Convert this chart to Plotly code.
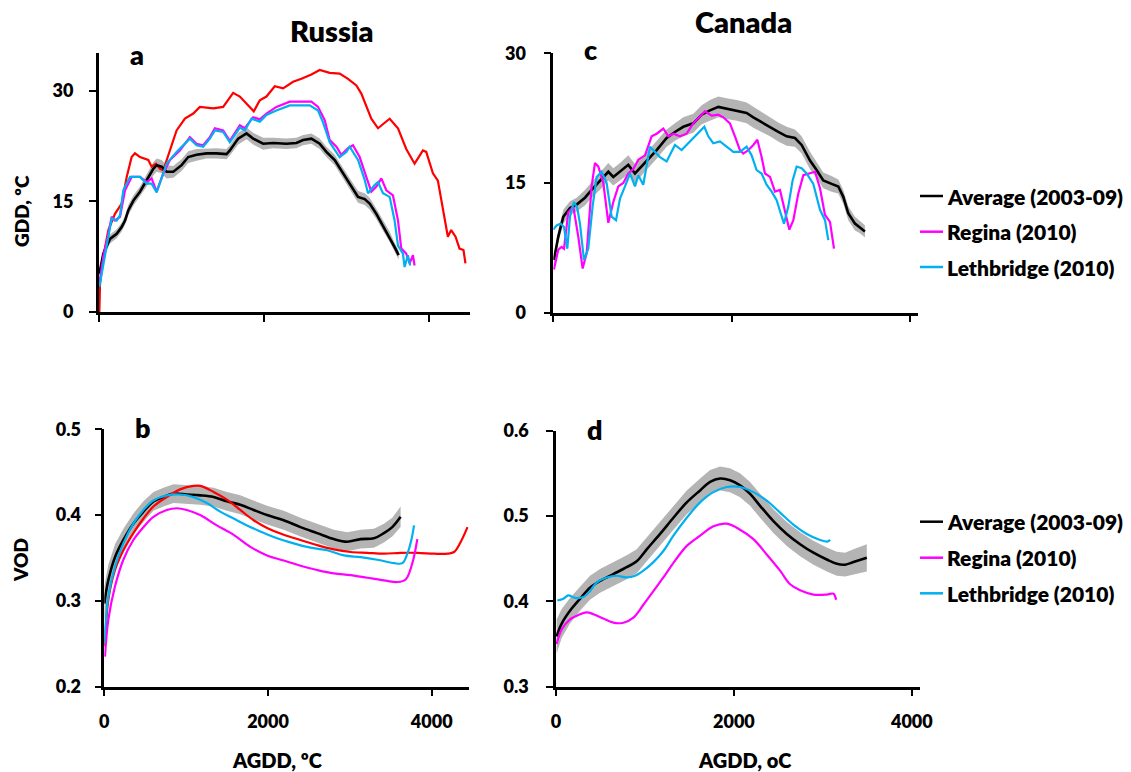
import plotly.graph_objects as go

W, H = 1131, 772

# ---------------- Panel a: Russia GDD ----------------
a_avg_x = [8,56,137,218,278,319,359,420,500,581,661,702,762,822,903,1004,1084,1185,1306,1427,1548,1588,1689,1790,1870,1991,2112,2273,2394,2475,2576,2676,2757,2858,2959,3039,3140,3221,3281,3362,3442,3523,3583,3632]
a_avg_y = [5.2,7.9,9.9,10.6,11.5,12.4,13.8,15.1,16.3,17.8,19.4,19.9,19.7,19.0,19.0,19.9,21.0,21.3,21.5,21.5,21.4,21.9,23.5,24.2,23.5,22.8,22.9,22.8,22.9,23.3,23.5,22.8,21.7,20.6,18.8,17.4,15.6,15.3,14.7,13.3,11.7,10.2,8.8,7.7]
a_avg_err = [0.4,0.5,0.6,0.6,0.6,0.6,0.7,0.7,0.7,0.8,0.9,0.9,0.9,0.9,0.8,0.8,0.8,0.8,0.7,0.7,0.7,0.7,0.8,0.8,0.8,0.8,0.7,0.7,0.7,0.7,0.7,0.7,0.7,0.7,0.7,0.7,0.8,0.8,0.8,0.7,0.7,0.7,0.6,0.6]

a_red_x = [8,16,56,117,197,278,339,399,439,500,600,641,693,742,782,822,883,943,1044,1145,1225,1387,1507,1628,1709,1790,1878,1951,2031,2132,2233,2354,2455,2576,2676,2797,2918,3019,3120,3180,3240,3301,3382,3442,3523,3624,3724,3825,3926,3966,4047,4107,4168,4228,4268,4321,4369,4417,4441]
a_red_y = [0,3.8,7.5,11.1,13.3,14.7,18.3,21.0,21.5,21.0,20.6,19.7,20.1,19.4,19.2,20.6,22.8,24.6,26.2,26.9,27.8,27.6,27.8,29.7,29.2,28.2,27.2,28.7,29.2,30.6,30.3,31.2,31.6,32.2,32.8,32.4,32.3,31.6,30.7,29.6,27.8,26.2,24.9,25.5,26.2,24.9,22.1,20.1,21.9,21.7,18.8,17.8,13.8,10.2,11.1,10.2,8.6,8.4,6.6]

a_mag_x = [8,56,117,157,197,258,319,399,500,581,641,702,782,863,983,1104,1185,1265,1346,1407,1507,1588,1709,1769,1870,1951,2031,2152,2314,2434,2576,2656,2737,2797,2878,2938,3019,3079,3160,3240,3301,3362,3422,3483,3563,3624,3664,3724,3765,3805,3825]
a_mag_y = [3.8,7.5,10.6,12.9,12.4,12.9,16.5,18.3,18.3,17.6,18.1,16.3,18.8,20.6,21.9,23.7,22.8,22.6,23.7,24.9,24.6,23.2,25.3,24.9,26.4,26.1,26.9,27.8,28.5,28.5,28.5,27.8,26.0,23.3,22.4,21.3,22.2,22.6,21.0,18.3,16.3,17.0,18.1,16.5,15.8,12.4,8.6,7.9,6.6,7.7,6.3]

a_cyan_x = [8,76,157,218,258,298,379,500,581,641,702,822,943,1104,1185,1265,1346,1407,1507,1588,1709,1769,1850,1951,2031,2152,2314,2434,2555,2656,2716,2797,2918,2999,3039,3140,3221,3261,3341,3382,3442,3523,3583,3624,3684,3704,3744,3772]
a_cyan_y = [3.4,7.5,12.7,12.4,13.1,16.5,18.3,18.3,17.4,17.4,16.2,20.1,21.7,23.5,22.6,22.4,23.5,24.6,24.4,23.0,25.0,24.6,26.2,25.8,26.7,27.3,28.0,28.0,28.0,27.3,25.7,23.0,21.0,21.7,22.4,20.6,17.9,16.1,17.2,17.6,16.1,15.6,12.4,9.0,7.9,6.1,7.7,6.3]

# ---------------- Panel b: Russia VOD ----------------
b_avg_x = [0,49,131,233,355,478,600,722,845,1008,1171,1335,1498,1661,1824,1988,2192,2396,2600,2804,2967,3131,3294,3416,3518,3620]
b_avg_y = [0.297,0.324,0.351,0.371,0.390,0.404,0.416,0.421,0.425,0.424,0.423,0.421,0.416,0.412,0.406,0.400,0.394,0.386,0.379,0.372,0.369,0.372,0.373,0.379,0.386,0.398]
b_avg_err = [0.02,0.018,0.015,0.013,0.012,0.012,0.011,0.011,0.011,0.011,0.011,0.011,0.011,0.011,0.011,0.011,0.011,0.011,0.011,0.011,0.011,0.011,0.011,0.011,0.011,0.012]

b_red_x = [8,49,131,233,355,478,600,763,927,1090,1171,1335,1498,1661,1824,1988,2192,2396,2600,2804,3008,3212,3416,3620,3824,4029,4192,4273,4355,4437]
b_red_y = [0.247,0.301,0.336,0.359,0.379,0.396,0.410,0.421,0.430,0.434,0.434,0.427,0.418,0.406,0.394,0.385,0.377,0.371,0.365,0.360,0.357,0.356,0.355,0.356,0.356,0.355,0.355,0.357,0.369,0.386]

b_cyan_x = [0,49,131,233,355,478,600,763,927,1090,1253,1416,1580,1743,1906,2110,2314,2518,2722,2927,3131,3335,3539,3641,3702,3751,3784]
b_cyan_y = [0.250,0.305,0.340,0.367,0.390,0.406,0.417,0.423,0.424,0.421,0.414,0.404,0.396,0.388,0.381,0.373,0.367,0.362,0.359,0.353,0.351,0.348,0.344,0.344,0.355,0.371,0.388]

b_mag_x = [8,49,131,233,355,478,600,763,886,1008,1171,1375,1580,1784,1988,2192,2396,2600,2804,3008,3212,3416,3580,3682,3763,3824]
b_mag_y = [0.235,0.278,0.317,0.348,0.371,0.386,0.398,0.406,0.408,0.406,0.400,0.388,0.377,0.363,0.353,0.347,0.341,0.336,0.332,0.330,0.327,0.324,0.322,0.325,0.344,0.372]

# ---------------- Panel c: Canada GDD ----------------
c_avg_x = [7,56,112,187,262,355,430,523,617,673,748,841,916,1009,1084,1159,1271,1364,1458,1570,1664,1757,1851,1944,2056,2168,2243,2355,2430,2523,2617,2710,2785,2879,2953,3028,3121,3196,3252,3308,3383,3439,3495]
c_avg_y = [6.1,8.8,11.1,12.1,12.5,13.3,14.2,15.2,16.3,15.7,16.3,17.1,16.1,17.1,18.0,18.8,20.2,20.9,21.5,21.9,22.9,23.4,23.8,23.6,23.4,23.1,22.6,21.9,21.5,20.9,20.4,20.2,19.4,17.6,16.5,15.3,14.9,14.6,13.4,11.5,10.3,9.9,9.4]
c_avg_err = [0.6,0.7,0.8,0.8,0.8,0.9,0.9,1.0,1.0,1.0,1.0,1.1,1.1,1.0,1.0,1.0,1.0,1.0,1.1,1.1,1.1,1.2,1.2,1.2,1.2,1.2,1.2,1.1,1.1,1.1,1.1,1.0,1.0,1.0,0.9,0.9,0.9,0.8,0.8,0.8,0.8,0.7,0.7]

c_mag_x = [7,56,93,120,168,224,280,329,374,430,467,505,561,617,673,729,785,841,897,953,1028,1103,1159,1234,1290,1346,1421,1495,1570,1645,1701,1776,1850,1906,1981,2037,2093,2131,2187,2243,2288,2336,2374,2430,2486,2542,2598,2647,2692,2748,2804,2879,2935,2991,3047,3103,3148]
c_mag_y = [5.0,7.3,7.6,7.4,11.6,12.3,8.8,5.1,6.9,14.6,17.3,16.9,15.0,10.4,12.8,14.6,15.0,16.1,16.6,17.7,18.2,20.4,20.7,21.3,20.4,20.7,20.4,20.7,21.9,22.7,23.3,22.8,22.9,22.6,21.9,20.4,18.8,18.4,18.8,19.4,20.0,18.0,16.1,15.7,14.0,14.2,11.9,9.6,10.7,13.8,15.9,16.1,16.3,14.4,11.3,10.5,7.4]

c_cyan_x = [0,37,82,120,157,187,232,269,299,344,392,441,486,542,598,654,703,748,804,860,916,953,1009,1084,1140,1196,1271,1364,1439,1495,1570,1645,1694,1738,1794,1869,1944,2019,2093,2168,2224,2280,2336,2392,2449,2505,2550,2587,2636,2684,2729,2785,2841,2916,2991,3047,3084]
c_cyan_y = [9.6,10.1,10.3,9.9,7.4,11.1,12.8,12.1,10.3,6.1,7.4,12.3,15.7,16.3,15.0,11.1,10.7,13.2,14.6,16.1,14.6,15.9,14.8,19.2,18.6,18.0,17.5,19.4,18.8,19.4,20.2,21.1,21.5,20.4,19.6,19.8,19.2,18.6,18.6,19.2,18.2,16.5,16.1,14.8,14.0,13.0,11.5,10.3,12.3,15.3,16.9,16.7,16.1,14.9,11.9,10.7,8.4]

# ---------------- Panel d: Canada VOD ----------------
d_avg_x = [7,64,157,270,382,495,645,795,907,1020,1170,1320,1470,1620,1732,1845,1957,2069,2182,2294,2444,2594,2744,2894,3044,3157,3250,3344,3494]
d_avg_y = [0.359,0.374,0.389,0.403,0.416,0.424,0.432,0.440,0.447,0.461,0.479,0.498,0.516,0.530,0.540,0.544,0.542,0.536,0.526,0.512,0.494,0.479,0.467,0.457,0.449,0.444,0.443,0.446,0.451]
d_avg_err = [0.02,0.017,0.015,0.014,0.014,0.014,0.014,0.014,0.014,0.014,0.014,0.014,0.014,0.014,0.014,0.014,0.014,0.014,0.014,0.014,0.014,0.014,0.014,0.014,0.014,0.014,0.014,0.015,0.016]

d_cyan_x = [15,82,139,214,307,382,457,570,682,795,889,982,1095,1207,1320,1470,1620,1770,1920,2069,2219,2369,2519,2669,2819,2969,3050,3082]
d_cyan_y = [0.401,0.403,0.407,0.404,0.405,0.412,0.422,0.428,0.430,0.428,0.430,0.436,0.446,0.459,0.477,0.498,0.516,0.528,0.534,0.534,0.528,0.518,0.504,0.490,0.479,0.472,0.470,0.472]

d_mag_x = [7,64,157,251,345,420,532,645,757,870,982,1095,1207,1320,1470,1620,1770,1920,2069,2219,2369,2519,2632,2744,2894,3044,3119,3149]
d_mag_y = [0.350,0.367,0.379,0.384,0.387,0.385,0.380,0.375,0.375,0.381,0.396,0.412,0.428,0.445,0.465,0.477,0.488,0.491,0.484,0.473,0.455,0.436,0.420,0.413,0.408,0.408,0.409,0.402]

# ---------------- Text ----------------
panel_titles = ["Russia", "Canada"]
panel_letters = ["a", "b", "c", "d"]
legend_labels = ["Average (2003-09)", "Regina (2010)", "Lethbridge (2010)"]
x_ticks = [0, 2000, 4000]

BLACK = "#000000"
RED = "#ff0000"
MAG = "#ff00ff"
CYAN = "#00b0f0"
BAND = "rgba(130,130,130,0.6)"

FONT = "Lato"
WEIGHT = 800

def fx(p):
    return p / W

def fy(p):
    return 1 - p / H

fig = go.Figure()

def band(x, y, err, xa, ya):
    up = [v + e for v, e in zip(y, err)]
    lo = [v - e for v, e in zip(y, err)]
    fig.add_trace(go.Scatter(x=list(x) + list(x)[::-1], y=up + lo[::-1], fill="toself",
                             fillcolor=BAND, line=dict(width=0), mode="lines",
                             hoverinfo="skip", showlegend=False, xaxis=xa, yaxis=ya))

def line(x, y, color, name, xa, ya, width=2.2, shape="linear"):
    fig.add_trace(go.Scatter(x=x, y=y, mode="lines", name=name,
                             line=dict(color=color, width=width, shape=shape),
                             showlegend=False, xaxis=xa, yaxis=ya))

# Panel a
band(a_avg_x, a_avg_y, a_avg_err, "x", "y")
line(a_red_x, a_red_y, RED, "Russia (2010)", "x", "y")
line(a_avg_x, a_avg_y, BLACK, legend_labels[0], "x", "y", width=2.6)
line(a_mag_x, a_mag_y, MAG, legend_labels[1], "x", "y")
line(a_cyan_x, a_cyan_y, CYAN, legend_labels[2], "x", "y")

# Panel b
band(b_avg_x, b_avg_y, b_avg_err, "x2", "y2")
line(b_avg_x, b_avg_y, BLACK, legend_labels[0], "x2", "y2", width=2.6, shape="spline")
line(b_red_x, b_red_y, RED, "Russia (2010)", "x2", "y2", shape="spline")
line(b_mag_x, b_mag_y, MAG, legend_labels[1], "x2", "y2", shape="spline")
line(b_cyan_x, b_cyan_y, CYAN, legend_labels[2], "x2", "y2", shape="spline")

# Panel c
band(c_avg_x, c_avg_y, c_avg_err, "x3", "y3")
line(c_avg_x, c_avg_y, BLACK, legend_labels[0], "x3", "y3", width=2.6)
line(c_mag_x, c_mag_y, MAG, legend_labels[1], "x3", "y3")
line(c_cyan_x, c_cyan_y, CYAN, legend_labels[2], "x3", "y3")

# Panel d
band(d_avg_x, d_avg_y, d_avg_err, "x4", "y4")
line(d_avg_x, d_avg_y, BLACK, legend_labels[0], "x4", "y4", width=2.6, shape="spline")
line(d_mag_x, d_mag_y, MAG, legend_labels[1], "x4", "y4", shape="spline")
line(d_cyan_x, d_cyan_y, CYAN, legend_labels[2], "x4", "y4", shape="spline")

tickfont = dict(family=FONT, size=18, color=BLACK, weight=WEIGHT)
ax = dict(showline=True, linecolor=BLACK, linewidth=2.5, ticks="outside", ticklen=7,
          tickwidth=2, tickcolor=BLACK, showgrid=False, zeroline=False,
          tickfont=tickfont, fixedrange=True, automargin=False)

fig.update_layout(
    template="none",
    width=W, height=H, margin=dict(l=0, r=0, t=0, b=0, pad=0, autoexpand=False),
    paper_bgcolor="white", plot_bgcolor="white", showlegend=False,
    xaxis=dict(ax, domain=[fx(98.7), fx(470)], range=[0, 4496], tickvals=x_ticks,
               showticklabels=False, anchor="y"),
    yaxis=dict(ax, domain=[fy(312), fy(53)], range=[0, 35.1], tickvals=[0, 15, 30],
               ticklabelstandoff=12, anchor="x"),
    xaxis2=dict(ax, domain=[fx(104.3), fx(469.3)], range=[0, 4459], tickvals=x_ticks,
                ticklabelstandoff=10, anchor="y2"),
    yaxis2=dict(ax, domain=[fy(686.7), fy(429.3)], range=[0.2, 0.5],
                tickvals=[0.2, 0.3, 0.4, 0.5], ticktext=["0.2", "0.3", "0.4", "0.5"],
                ticklabelstandoff=10, anchor="x2"),
    xaxis3=dict(ax, domain=[fx(553.3), fx(918)], range=[0, 4090], tickvals=x_ticks,
                showticklabels=False, anchor="y3"),
    yaxis3=dict(ax, domain=[fy(312.7), fy(53.3)], range=[0, 30], tickvals=[0, 15, 30],
                ticklabelstandoff=14, anchor="x3"),
    xaxis4=dict(ax, domain=[fx(556), fx(920)], range=[0, 4092], tickvals=x_ticks,
                ticklabelstandoff=10, anchor="y4"),
    yaxis4=dict(ax, domain=[fy(686.7), fy(430.7)], range=[0.3, 0.6],
                tickvals=[0.3, 0.4, 0.5, 0.6], ticktext=["0.3", "0.4", "0.5", "0.6"],
                ticklabelstandoff=14, anchor="x4"),
)

def text(t, x, y, size, angle=0, xanchor="center"):
    fig.add_annotation(text=t, x=fx(x), y=fy(y), xref="paper", yref="paper",
                       showarrow=False, xanchor=xanchor, yanchor="middle",
                       textangle=angle,
                       font=dict(family=FONT, size=size, color=BLACK, weight=WEIGHT))

text(panel_titles[0], 332, 30, 29)
text(panel_titles[1], 743, 22, 29)
text(panel_letters[0], 137, 54, 27)
text(panel_letters[1], 143, 427, 27)
text(panel_letters[2], 590, 49, 27)
text(panel_letters[3], 595, 429, 27)
text("GDD, ºC", 21, 211, 19, angle=-90)
text("VOD", 20, 560, 19, angle=-90)
text("AGDD, ºC", 277, 760, 20)
text("AGDD, oC", 745, 760, 20)

# Manual legends (top and bottom rows)
leg_colors = [BLACK, MAG, CYAN]
for rows in ([196, 231.7, 267], [521.7, 557.7, 593.3]):
    for lab, col, yy in zip(legend_labels, leg_colors, rows):
        fig.add_shape(type="line", xref="paper", yref="paper",
                      x0=fx(920), x1=fx(943), y0=fy(yy), y1=fy(yy),
                      line=dict(color=col, width=2.5))
        text(lab, 945, yy, 21, xanchor="left")

fig.write_html("out.html", include_plotlyjs=True,
               config={"displayModeBar": False, "responsive": False},
               post_script="document.body.style.margin='0';document.body.style.overflow='hidden';")
